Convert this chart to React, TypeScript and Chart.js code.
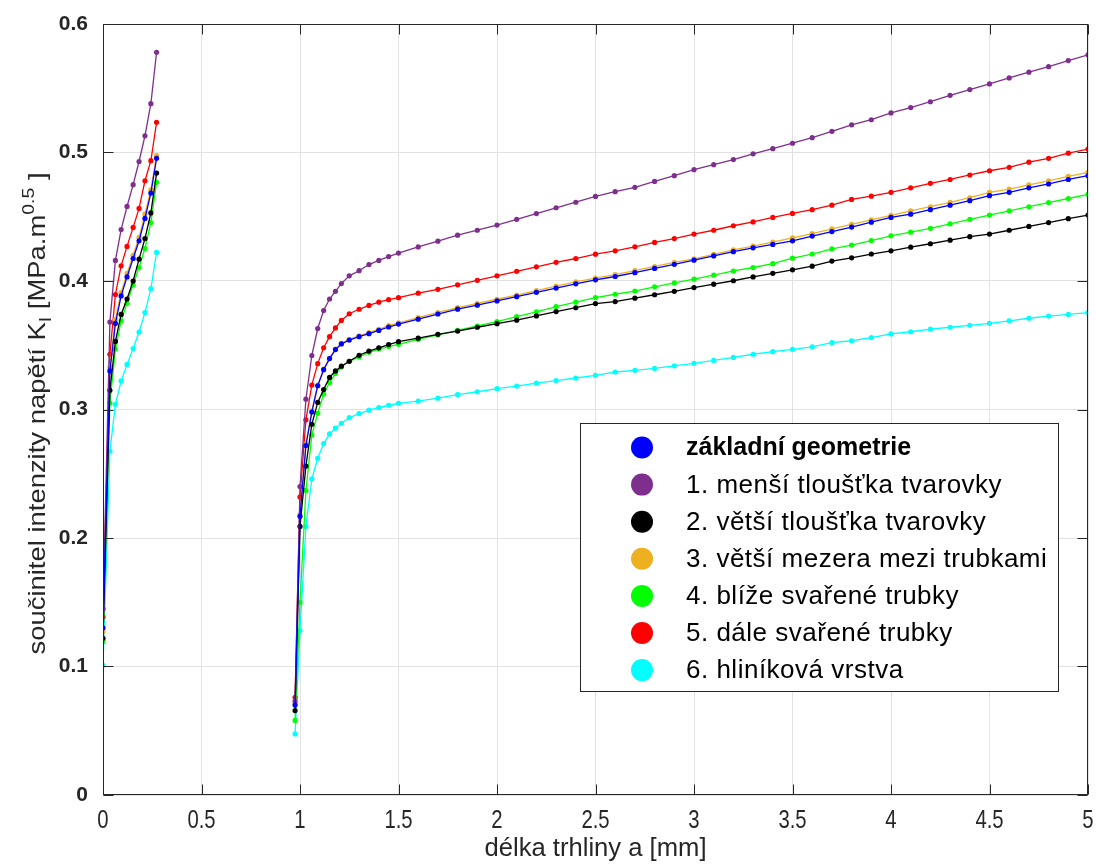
import React, { useEffect, useRef } from 'react';
import { Chart, registerables } from 'chart.js';

Chart.register(...registerables);

// ---------- data ----------
const seriesNames = [
  'základní geometrie',
  '1. menší tloušťka tvarovky',
  '2. větší tloušťka tvarovky',
  '3. větší mezera mezi trubkami',
  '4. blíže svařené trubky',
  '5. dále svařené trubky',
  '6. hliníková vrstva',
];
const seriesColors = ['#0000FF', '#7E2F8E', '#000000', '#EDB120', '#00FF00', '#FF0000', '#00FFFF'];

const xTickValues = [0, 0.5, 1, 1.5, 2, 2.5, 3, 3.5, 4, 4.5, 5];
const xTickLabels = ['0', '0.5', '1', '1.5', '2', '2.5', '3', '3.5', '4', '4.5', '5'];
const yTickValues = [0, 0.1, 0.2, 0.3, 0.4, 0.5, 0.6];
const yTickLabels = ['0', '0.1', '0.2', '0.3', '0.4', '0.5', '0.6'];

const xLeft = [0, 0.035, 0.063, 0.092, 0.122, 0.153, 0.183, 0.213, 0.243, 0.272];
const xRight = [
  0.975, 1.0, 1.03, 1.06, 1.09, 1.12, 1.15, 1.18, 1.21, 1.25, 1.3, 1.35, 1.4, 1.45, 1.5,
  1.6, 1.7, 1.8, 1.9, 2.0, 2.1, 2.2, 2.3, 2.4, 2.5, 2.6, 2.7, 2.8, 2.9, 3.0,
  3.1, 3.2, 3.3, 3.4, 3.5, 3.6, 3.7, 3.8, 3.9, 4.0, 4.1, 4.2, 4.3, 4.4, 4.5,
  4.6, 4.7, 4.8, 4.9, 5.0,
];

const blueLeft = [0.13, 0.33, 0.367, 0.3884, 0.4032, 0.4175, 0.4313, 0.4487, 0.4684, 0.4955];
const purpleLeft = [0.145, 0.368, 0.416, 0.44, 0.458, 0.475, 0.493, 0.513, 0.538, 0.578];
const blackLeft = [0.122, 0.315, 0.353, 0.374, 0.386, 0.4, 0.417, 0.433, 0.453, 0.484];
const orangeLeft = [0.127, 0.333, 0.37, 0.391, 0.406, 0.42, 0.434, 0.452, 0.471, 0.4975];
const greenLeft = [0.1195, 0.305, 0.347, 0.369, 0.3827, 0.397, 0.4105, 0.4253, 0.4455, 0.4768];
const redLeft = [0.1385, 0.343, 0.3895, 0.4118, 0.4269, 0.4417, 0.4565, 0.478, 0.4936, 0.5235];
const cyanLeft = [0.1008, 0.2676, 0.304, 0.3222, 0.3351, 0.3474, 0.3603, 0.3754, 0.394, 0.4222];

const blueRight = [
  0.07, 0.2169, 0.272, 0.298, 0.3185, 0.331, 0.3396, 0.3466, 0.351, 0.354, 0.3567, 0.359, 0.3615, 0.3642, 0.3665,
  0.3703, 0.3743, 0.3781, 0.3812, 0.3845, 0.3878, 0.3912, 0.3945, 0.3978, 0.4009, 0.4035, 0.4065, 0.4098, 0.413, 0.4162,
  0.4195, 0.4228, 0.4258, 0.4285, 0.4313, 0.435, 0.4385, 0.442, 0.4458, 0.4495, 0.452, 0.4555, 0.459, 0.4625, 0.4664,
  0.469, 0.4725, 0.4755, 0.479, 0.482,
];
const purpleRight = [
  0.073, 0.24, 0.308, 0.342, 0.363, 0.377, 0.386, 0.392, 0.398, 0.404, 0.408, 0.4128, 0.416, 0.419, 0.4217,
  0.4265, 0.431, 0.4357, 0.4395, 0.4435, 0.448, 0.4525, 0.457, 0.4613, 0.4658, 0.4695, 0.4729, 0.4775, 0.482, 0.4866,
  0.4905, 0.4945, 0.499, 0.503, 0.5072, 0.5115, 0.5165, 0.5215, 0.5255, 0.5308, 0.535, 0.5395, 0.5445, 0.549, 0.5534,
  0.558, 0.5625, 0.5668, 0.5715, 0.576,
];
const blackRight = [
  0.0657, 0.209, 0.256, 0.2885, 0.3055, 0.3155, 0.325, 0.33, 0.3337, 0.3375, 0.3422, 0.3455, 0.348, 0.3505, 0.3528,
  0.3555, 0.3585, 0.361, 0.364, 0.3668, 0.3695, 0.3728, 0.3762, 0.3792, 0.3824, 0.384, 0.3866, 0.3893, 0.392, 0.3949,
  0.3975, 0.4002, 0.4032, 0.406, 0.4087, 0.4115, 0.4155, 0.418, 0.421, 0.4235, 0.4263, 0.429, 0.4318, 0.4345, 0.4365,
  0.4395, 0.4425, 0.4455, 0.4485, 0.4513,
];
const orangeRight = [
  0.071, 0.218, 0.273, 0.299, 0.319, 0.3315, 0.34, 0.347, 0.3515, 0.3545, 0.3573, 0.3598, 0.3623, 0.3652, 0.3675,
  0.3715, 0.3755, 0.3793, 0.3825, 0.3858, 0.389, 0.3925, 0.396, 0.3993, 0.4022, 0.405, 0.408, 0.4113, 0.4145, 0.4172,
  0.4208, 0.4242, 0.4272, 0.4303, 0.4335, 0.4368, 0.4405, 0.444, 0.4475, 0.451, 0.4545, 0.4578, 0.4612, 0.4648, 0.469,
  0.4715, 0.4748, 0.478, 0.4815, 0.4846,
];
const greenRight = [
  0.058, 0.15, 0.237, 0.28, 0.297, 0.312, 0.321, 0.328, 0.333, 0.3375, 0.341, 0.3445, 0.347, 0.349, 0.3507,
  0.3545, 0.358, 0.3615, 0.365, 0.3684, 0.3722, 0.376, 0.38, 0.3835, 0.3871, 0.3897, 0.3922, 0.3955, 0.3985, 0.4014,
  0.4045, 0.4078, 0.4105, 0.4135, 0.4178, 0.421, 0.425, 0.428, 0.4315, 0.4352, 0.438, 0.441, 0.4445, 0.448, 0.4513,
  0.4545, 0.4578, 0.461, 0.4642, 0.4674,
];
const redRight = [
  0.076, 0.232, 0.292, 0.319, 0.3357, 0.348, 0.3567, 0.3635, 0.3693, 0.3745, 0.378, 0.381, 0.3835, 0.3855, 0.387,
  0.3905, 0.3935, 0.397, 0.4005, 0.404, 0.4075, 0.411, 0.4145, 0.4175, 0.4209, 0.4235, 0.4266, 0.43, 0.433, 0.4365,
  0.4395, 0.443, 0.446, 0.4495, 0.4526, 0.4555, 0.459, 0.4635, 0.466, 0.469, 0.4725, 0.476, 0.479, 0.4825, 0.4858,
  0.4885, 0.4925, 0.4955, 0.4995, 0.5027,
];
const cyanRight = [
  0.0475, 0.128, 0.209, 0.246, 0.262, 0.2735, 0.281, 0.2855, 0.2893, 0.2936, 0.2968, 0.2995, 0.3015, 0.3033, 0.3048,
  0.3065, 0.3088, 0.3115, 0.3138, 0.3162, 0.3182, 0.3205, 0.3225, 0.3245, 0.3266, 0.3292, 0.3305, 0.332, 0.334, 0.3359,
  0.3382, 0.3405, 0.343, 0.345, 0.3468, 0.3488, 0.352, 0.3535, 0.356, 0.3588, 0.3605, 0.3625, 0.364, 0.3655, 0.3671,
  0.369, 0.371, 0.3727, 0.374, 0.3754,
];

const leftSets = [blueLeft, purpleLeft, blackLeft, orangeLeft, greenLeft, redLeft, cyanLeft];
const rightSets = [blueRight, purpleRight, blackRight, orangeRight, greenRight, redRight, cyanRight];

const xTitle = 'délka trhliny a [mm]';
const yTitleParts = [
  { t: 'součinitel intenzity napětí K', k: 'n' },
  { t: 'I', k: 'sub' },
  { t: ' [MPa.m', k: 'n' },
  { t: '0.5', k: 'sup' },
  { t: ' ]', k: 'n' },
];

// ---------- styling ----------
const SANS = "'Liberation Sans', Arial, Helvetica, sans-serif";
const AXIS_COLOR = '#262626';
const CONDENSE = 0.78;

function buildData(left: number[], right: number[]) {
  const pts: { x: number; y: number | null }[] = [];
  xLeft.forEach((x, i) => pts.push({ x, y: left[i] }));
  pts.push({ x: 0.6, y: null });
  xRight.forEach((x, i) => pts.push({ x, y: right[i] }));
  return pts;
}

const framePlugin = {
  id: 'matlabFrame',
  afterDatasetsDraw(chart: any) {
    const { ctx, chartArea: a, scales } = chart;
    ctx.save();
    // box
    ctx.strokeStyle = AXIS_COLOR;
    ctx.lineWidth = 1;
    const L = Math.round(a.left) + 0.5;
    const T = Math.round(a.top) + 0.5;
    const R = Math.round(a.right) - 0.5;
    const B = Math.round(a.bottom) - 0.5;
    ctx.strokeRect(L, T, R - L, B - T);
    // inner ticks on all four sides
    const TL = 10;
    ctx.beginPath();
    xTickValues.forEach((v) => {
      const px = Math.round(scales.x.getPixelForValue(v)) + 0.5;
      ctx.moveTo(px, B);
      ctx.lineTo(px, B - TL);
      ctx.moveTo(px, T);
      ctx.lineTo(px, T + TL);
    });
    yTickValues.forEach((v) => {
      const py = Math.round(scales.y.getPixelForValue(v)) + 0.5;
      ctx.moveTo(L, py);
      ctx.lineTo(L + TL, py);
      ctx.moveTo(R, py);
      ctx.lineTo(R - TL, py);
    });
    ctx.stroke();

    // x tick labels (condensed Helvetica look)
    ctx.fillStyle = AXIS_COLOR;
    ctx.font = `26px ${SANS}`;
    ctx.textBaseline = 'alphabetic';
    ctx.textAlign = 'center';
    xTickValues.forEach((v, i) => {
      const px = scales.x.getPixelForValue(v);
      ctx.save();
      ctx.translate(px, 828);
      ctx.scale(CONDENSE, 1);
      ctx.fillText(xTickLabels[i], 0, 0);
      ctx.restore();
    });

    // x title
    ctx.textAlign = 'left';
    ctx.font = `25px ${SANS}`;
    const xw = ctx.measureText(xTitle).width;
    const xTarget = 222;
    ctx.save();
    ctx.translate((a.left + a.right) / 2 - xTarget / 2, 856);
    ctx.scale(xTarget / xw, 1);
    ctx.fillText(xTitle, 0, 0);
    ctx.restore();

    // y title with subscript / superscript
    const mainFont = `24px ${SANS}`;
    const smallFont = `17px ${SANS}`;
    let total = 0;
    const widths = yTitleParts.map((p) => {
      ctx.font = p.k === 'n' ? mainFont : smallFont;
      const w = ctx.measureText(p.t).width;
      total += w;
      return w;
    });
    const yTarget = 482;
    ctx.save();
    ctx.translate(45, (a.top + a.bottom) / 2 + 4 + yTarget / 2);
    ctx.rotate(-Math.PI / 2);
    ctx.scale(yTarget / total, 1);
    let cx = 0;
    yTitleParts.forEach((p, i) => {
      ctx.font = p.k === 'n' ? mainFont : smallFont;
      const dy = p.k === 'sub' ? 6 : p.k === 'sup' ? -11 : 0;
      ctx.fillText(p.t, cx, dy);
      cx += widths[i];
    });
    ctx.restore();

    // legend
    const lx = 580.5, ly = 423.5, lw = 478, lh = 268;
    ctx.fillStyle = '#ffffff';
    ctx.fillRect(lx, ly, lw, lh);
    ctx.strokeStyle = AXIS_COLOR;
    ctx.lineWidth = 1;
    ctx.strokeRect(lx, ly, lw, lh);
    const rowY0 = 447.5;
    const rowStep = 37.1;
    seriesNames.forEach((name, i) => {
      const y = rowY0 + i * rowStep;
      ctx.beginPath();
      ctx.fillStyle = seriesColors[i];
      ctx.arc(642, y, 11, 0, Math.PI * 2);
      ctx.fill();
      ctx.fillStyle = '#000000';
      ctx.font = i === 0 ? `bold 25px ${SANS}` : `26px ${SANS}`;
      (ctx as any).letterSpacing = i === 0 ? '0px' : '0.5px';
      ctx.textBaseline = 'middle';
      ctx.textAlign = 'left';
      ctx.fillText(name, 686, y + 1);
    });
    (ctx as any).letterSpacing = '0px';
    ctx.restore();
  },
};

export default function App() {
  const canvasRef = useRef<HTMLCanvasElement | null>(null);

  useEffect(() => {
    if (!canvasRef.current) return;
    const datasets = seriesNames.map((name, i) => ({
      label: name,
      data: buildData(leftSets[i], rightSets[i]),
      borderColor: seriesColors[i],
      backgroundColor: seriesColors[i],
      pointBackgroundColor: seriesColors[i],
      pointBorderColor: seriesColors[i],
      pointBorderWidth: 0,
      pointRadius: 2.6,
      borderWidth: 1.3,
      spanGaps: false,
      tension: 0,
    }));

    const chart = new Chart(canvasRef.current, {
      type: 'line',
      data: { datasets },
      plugins: [framePlugin],
      options: {
        animation: false,
        responsive: true,
        maintainAspectRatio: false,
        layout: { padding: { left: 8, right: 8, top: 24, bottom: 0 } },
        plugins: {
          legend: { display: false },
          tooltip: { enabled: false },
        },
        scales: {
          x: {
            type: 'linear',
            min: 0,
            max: 5,
            afterBuildTicks: (scale: any) => {
              scale.ticks = xTickValues.map((v) => ({ value: v }));
            },
            afterFit: (scale: any) => {
              scale.height = 70;
              scale.paddingLeft = 0;
              scale.paddingRight = 0;
            },
            border: { display: false },
            grid: { color: '#e2e2e2', lineWidth: 1, drawTicks: false },
            ticks: { display: false, autoSkip: false },
          },
          y: {
            type: 'linear',
            min: 0,
            max: 0.6,
            afterBuildTicks: (scale: any) => {
              scale.ticks = yTickValues.map((v) => ({ value: v }));
            },
            afterFit: (scale: any) => {
              scale.width = 95;
              scale.paddingTop = 0;
              scale.paddingBottom = 0;
            },
            border: { display: false },
            grid: { color: '#e2e2e2', lineWidth: 1, drawTicks: false },
            ticks: {
              padding: 15,
              color: AXIS_COLOR,
              font: { family: SANS, size: 21, weight: 'bold' },
              autoSkip: false,
              callback: (v: any) => {
                const i = yTickValues.findIndex((t) => Math.abs(t - Number(v)) < 1e-9);
                return i >= 0 ? yTickLabels[i] : '';
              },
            },
          },
        },
      },
    } as any);

    return () => chart.destroy();
  }, []);

  return (
    <div style={{ position: 'fixed', left: 0, top: 0, width: 1096, height: 865, background: '#ffffff' }}>
      <canvas ref={canvasRef} />
    </div>
  );
}
